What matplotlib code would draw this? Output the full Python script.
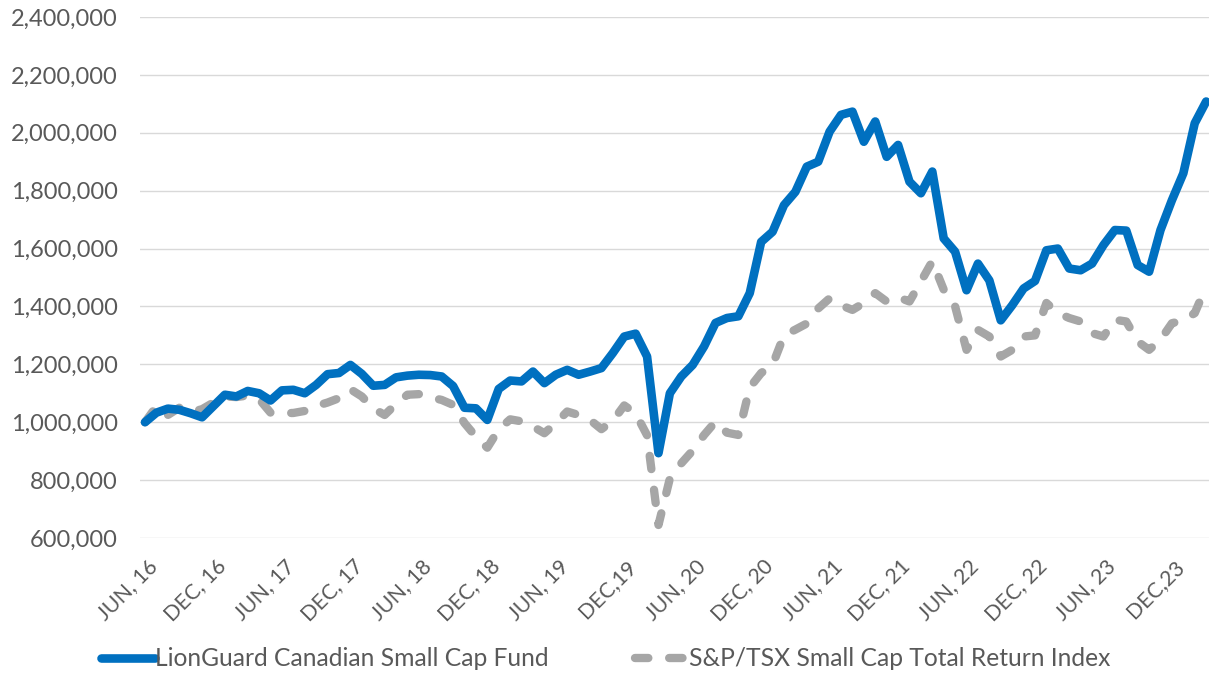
import numpy as np
import matplotlib
matplotlib.use("Agg")
import matplotlib.pyplot as plt
import matplotlib.transforms as mtransforms
from matplotlib.ticker import FuncFormatter

plt.rcParams['font.family'] = ['Lato', 'DejaVu Sans']

# monthly values, Jun 2016 .. Mar 2024 (growth of 1,000,000)
fund = [1000000, 1033000, 1047000, 1043000, 1031000, 1017000, 1056000, 1095000,
        1089000, 1108000, 1100000, 1075000, 1110000, 1112000, 1100000, 1129000,
        1166000, 1170000, 1198000, 1167000, 1126000, 1129000, 1155000, 1161000,
        1164000, 1163000, 1158000, 1125000, 1050000, 1048000, 1008000, 1115000,
        1144000, 1141000, 1175000, 1135000, 1164000, 1181000, 1164000, 1175000,
        1187000, 1239000, 1296000, 1306000, 1227000, 893000, 1100000, 1158000,
        1198000, 1262000, 1343000, 1360000, 1366000, 1446000, 1623000, 1658000,
        1750000, 1796000, 1883000, 1900000, 2004000, 2062000, 2073000, 1969000,
        2039000, 1917000, 1958000, 1831000, 1791000, 1866000, 1635000, 1589000,
        1456000, 1548000, 1490000, 1352000, 1404000, 1462000, 1488000, 1594000,
        1600000, 1531000, 1525000, 1548000, 1612000, 1664000, 1662000, 1543000,
        1520000, 1664000, 1767000, 1860000, 2033000, 2108000]

index = [1000000, 1055000, 1025000, 1050000, 1035000, 1045000, 1068000, 1089000,
         1087000, 1092000, 1080000, 1033000, 1031000, 1032000, 1039000, 1056000,
         1068000, 1083000, 1114000, 1089000, 1048000, 1025000, 1063000, 1095000,
         1097000, 1086000, 1077000, 1060000, 997000, 950000, 912000, 975000,
         1010000, 1003000, 985000, 962000, 997000, 1037000, 1025000, 1008000,
         976000, 1005000, 1058000, 1030000, 955000, 645000, 806000, 858000,
         902000, 956000, 1002000, 964000, 956000, 1120000, 1170000, 1198000,
         1300000, 1320000, 1341000, 1393000, 1428000, 1404000, 1388000, 1412000,
         1446000, 1417000, 1432000, 1417000, 1486000, 1556000, 1458000, 1400000,
         1250000, 1319000, 1296000, 1227000, 1250000, 1296000, 1300000, 1412000,
         1377000, 1360000, 1348000, 1308000, 1296000, 1354000, 1348000, 1279000,
         1250000, 1285000, 1342000, 1352000, 1377000, 1469000]

tick_labels = ["JUN, 16", "DEC, 16", "JUN, 17", "DEC, 17", "JUN, 18", "DEC, 18",
               "JUN, 19", "DEC,19", "JUN, 20", "DEC, 20", "JUN, 21", "DEC, 21",
               "JUN, 22", "DEC, 22", "JUN, 23", "DEC,23"]

fund_name = "LionGuard Canadian Small Cap Fund"
index_name = "S&P/TSX Small Cap Total Return Index"

W, H = 1209, 674
fig = plt.figure(figsize=(W / 100, H / 100), dpi=100)
ax = fig.add_axes([140 / W, 1 - 538 / H, (W - 140) / W, (538 - 17) / H])

x = np.arange(len(fund))
ax.plot(x, fund, color="#0070C0", lw=6.2, solid_capstyle="round",
        solid_joinstyle="round", label=fund_name, zorder=3)
ax.plot(x, index, color="#A6A6A6", lw=6.0, dashes=(1.6, 2.5),
        dash_capstyle="round", dash_joinstyle="round", label=index_name, zorder=2)

ax.set_ylim(600000, 2400000)
ax.set_yticks(np.arange(600000, 2400001, 200000))
ax.yaxis.set_major_formatter(FuncFormatter(lambda v, p: f"{int(v):,}"))
ax.set_xlim(-0.44, 93.25)
ax.set_xticks(np.arange(0, len(fund), 6))
ax.set_xticklabels(tick_labels, rotation=45, ha="right", va="top",
                   rotation_mode="anchor")

ax.grid(axis="y", color="#D9D9D9", lw=1.0)
ax.set_axisbelow(True)
for s in ax.spines.values():
    s.set_visible(False)
ax.tick_params(length=0, labelcolor="#595959")
ax.tick_params(axis="y", pad=16, labelsize=17)
ax.tick_params(axis="x", pad=13, labelsize=15.3)
offset = mtransforms.ScaledTranslation(2 / 100, 0, fig.dpi_scale_trans)
for lab in ax.get_xticklabels():
    lab.set_transform(lab.get_transform() + offset)

leg = fig.legend(loc="center", bbox_to_anchor=(606 / W, 1 - 659 / H), ncol=2,
                 frameon=False, fontsize=17.7, handlelength=2.2, handletextpad=0.0,
                 columnspacing=3.5, labelcolor="#595959")

fig.savefig("out.png", dpi=100)
